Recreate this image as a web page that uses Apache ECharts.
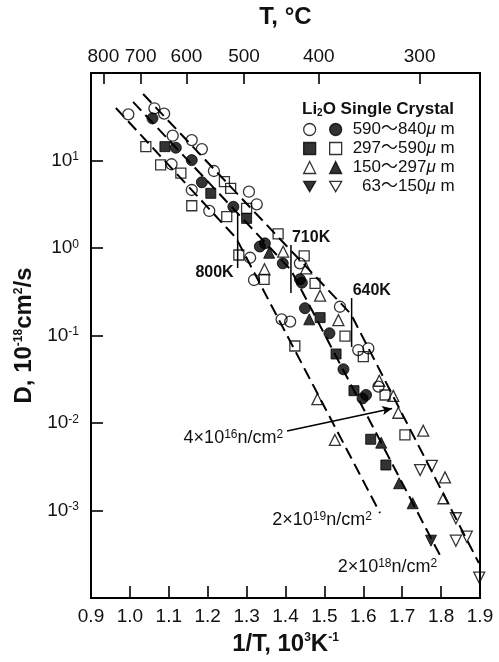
<!DOCTYPE html>
<html>
<head>
<meta charset="utf-8">
<script src="https://cdn.jsdelivr.net/npm/echarts@6/dist/echarts.min.js"></script>
<style>html,body{margin:0;padding:0;background:#fff}#c{width:499px;height:662px}</style>
</head>
<body>
<div id="c"></div>
<script>
// ---------- data (x = 1/T in 10^3 K^-1, y = D in 10^-18 cm^2/s) ----------
const openCircle = [[0.996,33.7],[1.063,39.5],[1.088,34.3],[1.110,19.2],[1.159,17.1],[1.185,13.5],[1.107,9.06],[1.216,7.59],[1.159,4.60],[1.306,4.40],[1.326,3.16],[1.204,2.65],[1.309,0.774],[1.437,0.668],[1.319,0.431],[1.540,0.213],[1.390,0.153],[1.412,0.144],[1.587,0.0682],[1.613,0.0714],[1.639,0.0260]];
const filledCircle = [[1.058,30.3],[1.118,14.0],[1.159,10.1],[1.185,5.64],[1.266,2.96],[1.334,1.04],[1.347,1.13],[1.393,0.668],[1.437,0.439],[1.442,0.401],[1.450,0.205],[1.513,0.106],[1.549,0.0411],[1.607,0.0209],[1.598,0.0191]];
const filledSquare = [[1.090,14.4],[1.208,4.22],[1.300,2.18],[1.489,0.160],[1.530,0.0615],[1.576,0.0234],[1.619,0.00652],[1.658,0.00331]];
const openSquare = [[1.041,14.4],[1.079,8.89],[1.131,7.19],[1.243,5.73],[1.259,4.81],[1.159,3.04],[1.249,2.28],[1.300,2.84],[1.280,0.832],[1.381,1.45],[1.448,0.811],[1.345,0.439],[1.476,0.395],[1.553,0.0986],[1.424,0.0759],[1.600,0.0573],[1.656,0.0209],[1.707,0.00730]];
const openTriangle = [[1.394,0.908],[1.453,0.586],[1.346,0.571],[1.489,0.285],[1.536,0.150],[1.641,0.0304],[1.677,0.0204],[1.482,0.0187],[1.690,0.0131],[1.754,0.00817],[1.527,0.00640],[1.810,0.00239],[1.806,0.00138]];
const filledTriangle = [[1.358,0.883],[1.461,0.153],[1.646,0.00596],[1.692,0.00205],[1.727,0.00121]];
const filledDown = [[1.774,0.000452]];
const openDown = [[1.746,0.00290],[1.776,0.00323],[1.838,0.000815],[1.838,0.000452],[1.866,0.000502],[1.898,0.000171]];

// fitted dashed curves
const curve2e19 = [[0.964,39.8],[1.273,1.30],[1.643,0.000936]];
const curve2e18 = [[1.008,46.7],[1.414,0.561],[1.802,0.000280]];
const curve4e16 = [[1.034,57.5],[1.568,0.176],[1.897,0.000251]];

// knee markers
const markerNames = ['800K','710K','640K'];
const markerX = [1.277,1.414,1.570];
const markerTop = [2.51,1.08,0.268];
const markerBottom = [0.590,0.306,0.0740];

// fluence labels
const fluenceCoef = [4,2,2];
const fluenceExp = [16,19,18];
const fluenceAnchorX = [1.394,1.622,1.790];
const fluenceAnchorY = [0.00674,0.000778,0.000226];
const arrowFrom = [1.404,0.00811];
const arrowTo = [1.674,0.01466];

// legend texts
const sizeRanges = ['590\uFF5E840','297\uFF5E590','150\uFF5E297','  63\uFF5E150'];

// tick labels
const tempTicks = [800,700,600,500,400,300];
const xMin = 0.9, xMax = 1.9, xStep = 0.1;
const yMin = 1e-4, yMax = 100;

// ---------- chart ----------
const FONT = '"Liberation Sans", Arial, "Noto Sans CJK JP", sans-serif';
const chart = echarts.init(document.getElementById('c'), null, {renderer:'canvas'});

const openStyle = {color:'rgba(255,255,255,0)', borderColor:'#000', borderWidth:1.3};
const fillStyle = {color:'#000', borderColor:'#000', borderWidth:1};
const downPath = 'path://M0,0 L20,0 L10,17 Z';

function scatter(name, data, symbol, style, size){
  return {name, type:'scatter', data, symbol, symbolSize:size, itemStyle:style, z:5, silent:true};
}
function dashed(name, data){
  return {name, type:'line', data, showSymbol:false, symbol:'none', silent:true, z:3,
    lineStyle:{color:'#000', width:2, type:[12,6]}};
}

const c4 = dashed('4e16', curve4e16);
c4.markLine = {
  silent:true, symbol:['none','arrow'], symbolSize:[7,10],
  label:{show:false},
  lineStyle:{type:'solid', color:'#000', width:1.5},
  data:[[{coord:arrowFrom},{coord:arrowTo}]]
};

const option = {
  animation:false,
  backgroundColor:'#fff',
  textStyle:{fontFamily:FONT},
  grid:{left:91,right:19,top:73,bottom:64,show:true,borderColor:'#000',borderWidth:2},
  title:{
    text:'{a|Li}{s|2}{a|O Single Crystal}', left:302, top:101, padding:0,
    textStyle:{rich:{
      a:{fontSize:17,fontWeight:'bold',color:'#111',fontFamily:FONT},
      s:{fontSize:10,fontWeight:'bold',color:'#111',fontFamily:FONT,verticalAlign:'bottom'}
    }}
  },
  legend:[
    {data:['oc','fs','ot','fd'], left:303, top:120, orient:'vertical', padding:0,
     itemWidth:12, itemHeight:12, itemGap:0, selectedMode:false,
     formatter:()=>' ', textStyle:{fontSize:17, lineHeight:19},
     itemStyle:{borderWidth:1.3}},
    {data:['fc','os','ft','od'], left:329, top:120, orient:'vertical', padding:0,
     itemWidth:12, itemHeight:12, itemGap:0, selectedMode:false,
     formatter:(n)=>{const i=['fc','os','ft','od'].indexOf(n); return '{g|}{a|'+sizeRanges[i]+'}{u|\u03BC}{a| m}';},
     textStyle:{fontSize:17, lineHeight:19, rich:{
       g:{width:6,lineHeight:19},
       a:{fontSize:17,color:'#111',fontFamily:FONT,lineHeight:19},
       u:{fontSize:17,color:'#111',fontStyle:'italic',fontFamily:FONT,lineHeight:19}}},
     itemStyle:{borderWidth:1.3}}
  ],
  xAxis:[
    {type:'value', position:'bottom', min:xMin, max:xMax, interval:xStep,
     name:'{a|1/T, 10}{s|3}{a|K}{s|-1}', nameLocation:'middle', nameGap:34,
     nameTextStyle:{rich:{
       a:{fontSize:24,fontWeight:'bold',color:'#111',fontFamily:FONT},
       s:{fontSize:12,fontWeight:'bold',color:'#111',fontFamily:FONT,verticalAlign:'top'}}},
     axisLine:{lineStyle:{color:'#000',width:2}},
     axisTick:{inside:true,length:12,lineStyle:{color:'#000',width:1.6}},
     axisLabel:{fontSize:19,color:'#111',margin:9,formatter:v=>v.toFixed(1)},
     splitLine:{show:false}},
    {type:'value', position:'top', min:xMin, max:xMax,
     name:'T, \u00B0C', nameLocation:'middle', nameGap:44,
     nameTextStyle:{fontSize:24,fontWeight:'bold',color:'#111'},
     axisLine:{lineStyle:{color:'#000',width:2}},
     axisTick:{inside:true,length:11,lineStyle:{color:'#000',width:1.6},
       customValues:tempTicks.map(t=>1000/(t+273.15))},
     axisLabel:{fontSize:19,color:'#111',margin:7,
       customValues:tempTicks.map(t=>1000/(t+273.15)),
       formatter:v=>String(Math.round(1000/v-273.15))},
     splitLine:{show:false}}
  ],
  yAxis:{type:'log', logBase:10, min:yMin, max:yMax,
     name:'{a|D, 10}{s|-18}{a|cm}{s|2}{a|/s}', nameLocation:'middle', nameGap:52,
     nameTextStyle:{rich:{
       a:{fontSize:24,fontWeight:'bold',color:'#111',fontFamily:FONT},
       s:{fontSize:12,fontWeight:'bold',color:'#111',fontFamily:FONT,verticalAlign:'top'}}},
     axisLine:{lineStyle:{color:'#000',width:2}},
     axisTick:{inside:true,length:12,lineStyle:{color:'#000',width:1.6}},
     axisLabel:{margin:12, showMinLabel:false, showMaxLabel:false,
       formatter:v=>'{b|10}{s|'+Math.round(Math.log10(v))+'}',
       rich:{b:{fontSize:19,color:'#111',fontFamily:FONT},
             s:{fontSize:12,color:'#111',fontFamily:FONT,verticalAlign:'top'}}},
     splitLine:{show:false}},
  series:[
    dashed('2e19', curve2e19),
    dashed('2e18', curve2e18),
    c4,
    scatter('oc', openCircle, 'circle', openStyle, 11),
    scatter('fc', filledCircle, 'circle', fillStyle, 11),
    scatter('fs', filledSquare, 'rect', fillStyle, 10),
    scatter('os', openSquare, 'rect', openStyle, 10),
    scatter('ot', openTriangle, 'triangle', openStyle, 11),
    scatter('ft', filledTriangle, 'triangle', fillStyle, 11),
    scatter('fd', filledDown, downPath, fillStyle, 11),
    scatter('od', openDown, downPath, openStyle, 11),
    {type:'custom', name:'markers', silent:true, z:4,
     data:markerX.map((x,i)=>[x, markerTop[i], markerBottom[i], i]),
     renderItem:(params, api)=>{
       const i = api.value(3);
       const a = api.coord([api.value(0), api.value(1)]);
       const b = api.coord([api.value(0), api.value(2)]);
       const left = i === 0;
       return {type:'group', children:[
         {type:'line', shape:{x1:a[0],y1:a[1],x2:b[0],y2:b[1]}, style:{stroke:'#000',lineWidth:1.5}},
         {type:'text', x: left ? b[0]-4 : a[0]+1, y: left ? b[1]+5 : a[1]-7,
          style:{text:markerNames[i], fill:'#111', fontSize:16, fontWeight:'bold', fontFamily:FONT,
                 align:left?'right':'left', verticalAlign:'middle'}}
       ]};
     }},
    {type:'custom', name:'fluence', silent:true, z:4,
     data:fluenceAnchorX.map((x,i)=>[x, fluenceAnchorY[i], i]),
     renderItem:(params, api)=>{
       const i = api.value(2);
       const p = api.coord([api.value(0), api.value(1)]);
       return {type:'text', x:p[0], y:p[1], style:{
         text:'{m|'+fluenceCoef[i]+'\u00D710}{s|'+fluenceExp[i]+'}{m|n/cm}{s|2}',
         align:'right', verticalAlign:'middle',
         rich:{m:{fontSize:18,fill:'#111',fontFamily:FONT},
               s:{fontSize:12,fill:'#111',fontFamily:FONT,verticalAlign:'top'}}}};
     }}
  ]
};
chart.setOption(option);
</script>
</body>
</html>
